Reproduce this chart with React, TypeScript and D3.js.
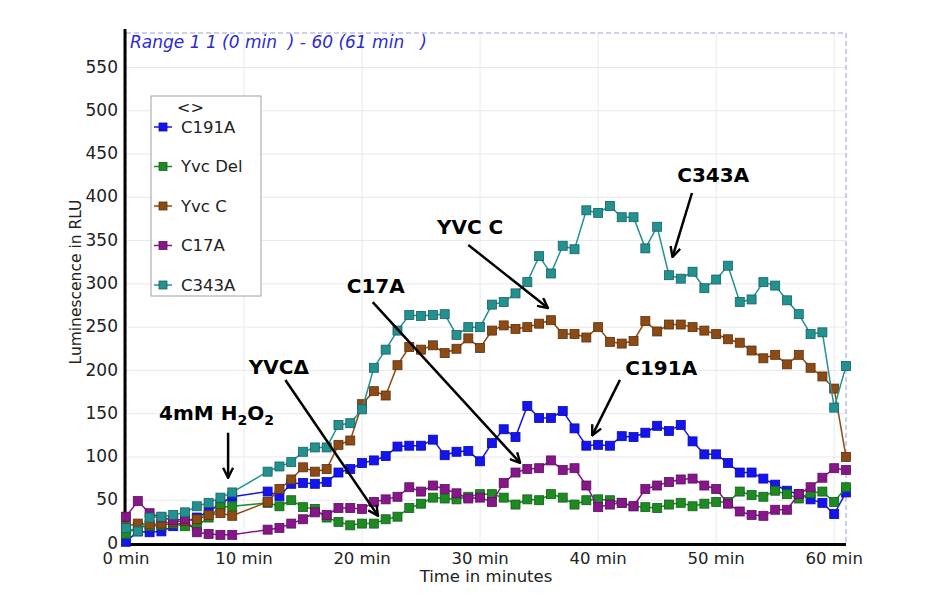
import React from 'react'
import * as d3 from 'd3'

// sampling times (min) - no readings at 10 and 11 min
const minutes = [0, 1, 2, 3, 4, 5, 6, 7, 8, 9, 12, 13, 14, 15, 16, 17, 18, 19, 20, 21,
  22, 23, 24, 25, 26, 27, 28, 29, 30, 31, 32, 33, 34, 35, 36, 37, 38, 39, 40, 41,
  42, 43, 44, 45, 46, 47, 48, 49, 50, 51, 52, 53, 54, 55, 56, 57, 58, 59, 60, 61]

const c191a = [2, 14, 13, 14, 20, 25, 30, 37, 46, 54, 60, 55, 69, 70, 69, 71, 82, 86, 93, 96,
  101, 112, 113, 113, 120, 102, 106, 107, 95, 116, 132, 123, 159, 145, 145, 153, 133, 113, 114, 113,
  124, 123, 128, 136, 130, 137, 118, 103, 103, 93, 82, 82, 75, 68, 61, 57, 51, 47, 34, 59]
const yvcDel = [11, 19, 20, 21, 23, 20, 20, 30, 42, 43, 47, 43, 50, 42, 40, 30, 25, 21, 23, 23,
  28, 31, 41, 46, 53, 52, 51, 54, 57, 57, 53, 45, 51, 50, 57, 53, 45, 50, 51, 50,
  47, 43, 42, 41, 45, 47, 43, 46, 48, 48, 60, 56, 54, 61, 57, 52, 58, 60, 48, 65]
const yvcC = [20, 23, 22, 23, 25, 26, 28, 33, 35, 32, 48, 63, 74, 88, 83, 86, 114, 119, 161, 176,
  171, 206, 227, 224, 229, 220, 225, 237, 226, 246, 252, 248, 250, 254, 258, 242, 242, 238, 250, 233,
  231, 234, 257, 245, 253, 253, 250, 246, 242, 236, 232, 223, 214, 218, 207, 218, 203, 193, 179, 100]
const c17a = [31, 49, 35, 30, 27, 28, 13, 11, 10, 10, 16, 18, 23, 28, 36, 33, 41, 41, 40, 48,
  51, 54, 65, 60, 67, 63, 58, 52, 53, 48, 70, 82, 86, 87, 96, 85, 87, 67, 42, 45,
  47, 43, 63, 67, 71, 74, 75, 67, 63, 46, 37, 33, 32, 39, 39, 57, 65, 76, 87, 85]
const c343a = [18, 14, 30, 31, 33, 36, 43, 47, 53, 59, 83, 89, 94, 106, 111, 111, 137, 139, 155, 203,
  224, 246, 264, 263, 264, 265, 241, 250, 250, 276, 279, 289, 302, 332, 312, 344, 340, 385, 382, 390,
  377, 377, 341, 366, 310, 306, 314, 295, 305, 321, 279, 282, 302, 298, 281, 265, 242, 244, 157, 205]

const seriesNames = ['C191A', 'Yvc Del', 'Yvc C', 'C17A', 'C343A']
const seriesValues = [c191a, yvcDel, yvcC, c17a, c343a]
const colors = ['#1414ee', '#1d8a22', '#8c4a14', '#86168a', '#249191']
const strokes = ['#0a0aa8', '#136018', '#5e300c', '#5c0e5e', '#176161']

const yTicks = [0, 50, 100, 150, 200, 250, 300, 350, 400, 450, 500, 550]
const xTicks = [0, 10, 20, 30, 40, 50, 60]

// annotation labels, in data coordinates [min, RLU]
const noteLabels = ['YVC\u0394', 'C17A', 'YVC C', 'C343A', 'C191A']
const notePos = [[10.4, 196], [18.7, 289], [26.35, 358], [46.7, 418], [42.3, 195]]
const noteArrows = [
  [[13.5, 189], [21.35, 32]],
  [[20.9, 279], [33.4, 93]],
  [[29, 345], [35.75, 272]],
  [[47.95, 405], [46.3, 331]],
  [[41.85, 189], [39.5, 125]],
]
const h2o2Pos = [2.8, 143]
const h2o2Arrow = [[8.65, 128], [8.65, 76]]

const W = 947
const H = 606

export default function App () {
  const x = d3.scaleLinear().domain([0, 61]).range([126, 846])
  const y = d3.scaleLinear().domain([0, 550]).range([543.5, 67.5])
  const top = 33
  const left = x(0)
  const right = x(61)
  const bottom = y(0)

  const line = d3.line<number>()
    .x((d, i) => x(minutes[i]))
    .y(d => y(d))

  const font = '"DejaVu Sans", Verdana, sans-serif'

  return (
    <svg width={W} height={H} style={{ position: 'absolute', left: 0, top: 0, background: '#fff' }}
      fontFamily={font}>
      <defs>
        <marker id="arr" viewBox="0 0 12 12" refX="11" refY="6" markerWidth="12" markerHeight="12"
          markerUnits="userSpaceOnUse" orient="auto">
          <path d="M1,1 L11,6 L1,11" fill="none" stroke="#000" strokeWidth="2.4" />
        </marker>
      </defs>

      {/* grid */}
      {yTicks.slice(1).map(t => (
        <line key={'gy' + t} x1={left} x2={right} y1={y(t)} y2={y(t)} stroke="#e9e9e9" strokeWidth={1} />
      ))}
      {xTicks.slice(1).map(t => (
        <line key={'gx' + t} x1={x(t)} x2={x(t)} y1={top} y2={bottom} stroke="#e9e9e9" strokeWidth={1} />
      ))}

      {/* dashed frame */}
      <rect x={left} y={top} width={right - left} height={bottom - top} fill="none"
        stroke="#9a9ae0" strokeWidth={1} strokeDasharray="5,3" />

      {/* axes */}
      <line x1={left - 1} x2={left - 1} y1={top - 4} y2={bottom + 1.5} stroke="#000" strokeWidth={3} />
      <line x1={left - 2.5} x2={right} y1={bottom + 1} y2={bottom + 1} stroke="#000" strokeWidth={3} />

      {yTicks.map(t => (
        <text key={'ty' + t} x={118} y={y(t)} dy="0.3em" textAnchor="end" fontSize={17} fill="#222">{t}</text>
      ))}
      {xTicks.map(t => (
        <text key={'tx' + t} x={x(t)} y={564} textAnchor="middle" fontSize={16.5} fill="#222">{t} min</text>
      ))}
      <text x={486} y={582} textAnchor="middle" fontSize={16.5} fill="#222">Time in minutes</text>
      <text transform={`translate(81,282) rotate(-90)`} textAnchor="middle" fontSize={15.5} fill="#222">
        Luminescence in RLU
      </text>

      <text x={130} y={48} fontSize={17} fontStyle="italic" fill="#2a2ad8" style={{ whiteSpace: 'pre' }}>
        {'Range 1 1 (0 min  ) - 60 (61 min   )'}
      </text>

      {/* series */}
      {seriesValues.map((vals, s) => (
        <g key={seriesNames[s]}>
          <path d={line(vals) || ''} fill="none" stroke={colors[s]} strokeWidth={1.5} />
          {vals.map((v, i) => (
            <rect key={i} x={x(minutes[i]) - 4.5} y={y(v) - 4.5} width={9} height={9}
              fill={colors[s]} stroke={strokes[s]} strokeWidth={0.8} />
          ))}
        </g>
      ))}

      {/* legend */}
      <rect x={151} y={96} width={110} height={200} fill="#fff" stroke="#a0a0a0" strokeWidth={1} />
      <text x={177} y={113} fontSize={16} fill="#222">{'<>'}</text>
      {seriesNames.map((n, i) => {
        const ly = 127 + i * 39.5
        return (
          <g key={'lg' + n}>
            <line x1={154} x2={172} y1={ly} y2={ly} stroke={colors[i]} strokeWidth={1.5} />
            <rect x={159} y={ly - 4} width={8} height={8} fill={colors[i]} stroke={strokes[i]} strokeWidth={0.8} />
            <text x={181} y={ly} dy="0.36em" fontSize={16.5} fill="#222">{n}</text>
          </g>
        )
      })}

      {/* annotations */}
      {noteLabels.map((n, i) => (
        <g key={'nt' + i}>
          <text x={x(notePos[i][0])} y={y(notePos[i][1])} fontSize={20} fontWeight="bold" fill="#000">{n}</text>
          <line x1={x(noteArrows[i][0][0])} y1={y(noteArrows[i][0][1])}
            x2={x(noteArrows[i][1][0])} y2={y(noteArrows[i][1][1])}
            stroke="#000" strokeWidth={2.5} markerEnd="url(#arr)" />
        </g>
      ))}
      <text x={x(h2o2Pos[0])} y={y(h2o2Pos[1])} fontSize={20} fontWeight="bold" fill="#000">
        4mM H<tspan fontSize={14} dy={5}>2</tspan><tspan dy={-5}>O</tspan><tspan fontSize={14} dy={5}>2</tspan>
      </text>
      <line x1={x(h2o2Arrow[0][0])} y1={y(h2o2Arrow[0][1])} x2={x(h2o2Arrow[1][0])} y2={y(h2o2Arrow[1][1])}
        stroke="#000" strokeWidth={2.5} markerEnd="url(#arr)" />
    </svg>
  )
}
